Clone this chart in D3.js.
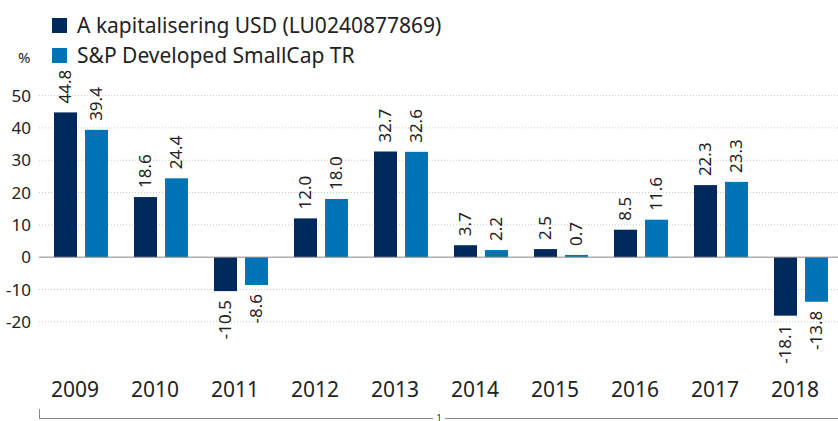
<!DOCTYPE html>
<html>
<head>
<meta charset="utf-8">
<script src="https://cdn.jsdelivr.net/npm/d3@7"></script>
<style>
  body { margin: 0; background: #fff; }
  text { font-family: "Noto Sans", "Open Sans", sans-serif; fill: #222; }
</style>
</head>
<body>
<svg id="chart" width="838" height="421"></svg>
<script>
const years = ["2009", "2010", "2011", "2012", "2013", "2014", "2015", "2016", "2017", "2018"];
const seriesNames = ["A kapitalisering USD (LU0240877869)", "S&P Developed SmallCap TR"];
const fundValues = [44.8, 18.6, -10.5, 12.0, 32.7, 3.7, 2.5, 8.5, 22.3, -18.1];
const indexValues = [39.4, 24.4, -8.6, 18.0, 32.6, 2.2, 0.7, 11.6, 23.3, -13.8];
const yTicks = [50, 40, 30, 20, 10, 0, -10, -20];
const colors = ["#002a5e", "#0073b6"];

const svg = d3.select('#chart');

const x = d3.scaleBand()
    .domain(years)
    .range([39, 843])
    .paddingInner(0.325)
    .paddingOuter(0.1875);

const xSub = d3.scaleBand()
    .domain([0, 1])
    .range([0, x.bandwidth()])
    .paddingInner(8 / 31);

const y = d3.scaleLinear()
    .domain([-20, 50])
    .range([321.8, 95.6]);

// gridlines
svg.append('g')
    .selectAll('line')
    .data(yTicks.filter(d => d !== 0))
    .enter()
    .append('line')
    .attr('x1', 39)
    .attr('x2', 838)
    .attr('y1', d => y(d))
    .attr('y2', d => y(d))
    .attr('stroke', '#c8c8c8')
    .attr('stroke-width', 1)
    .attr('stroke-dasharray', '1,2');

// y tick labels
svg.append('g')
    .selectAll('text')
    .data(yTicks)
    .enter()
    .append('text')
    .attr('x', 31)
    .attr('y', d => y(d))
    .attr('dy', '0.36em')
    .attr('text-anchor', 'end')
    .attr('font-size', 17)
    .text(d => d);

svg.append('text')
    .attr('x', 18)
    .attr('y', 63)
    .attr('font-size', 15)
    .text('%');

// bars
const data = years.map((yr, i) => ({ year: yr, vals: [fundValues[i], indexValues[i]] }));

const groups = svg.append('g')
    .selectAll('g')
    .data(data)
    .enter()
    .append('g')
    .attr('transform', d => `translate(${x(d.year)},0)`);

groups.selectAll('rect')
    .data(d => d.vals)
    .enter()
    .append('rect')
    .attr('x', (d, i) => xSub(i))
    .attr('y', d => y(Math.max(0, d)))
    .attr('width', xSub.bandwidth())
    .attr('height', d => Math.abs(y(d) - y(0)))
    .attr('fill', (d, i) => colors[i]);

groups.selectAll('text')
    .data(d => d.vals)
    .enter()
    .append('text')
    .attr('font-size', 17)
    .attr('text-anchor', d => d >= 0 ? 'start' : 'end')
    .attr('dy', '0.36em')
    .attr('transform', (d, i) => {
        const cx = xSub(i) + xSub.bandwidth() / 2 - 1;
        const cy = d >= 0 ? y(d) - 9 : y(d) + 9;
        return `translate(${cx},${cy}) rotate(-90)`;
    })
    .text(d => d.toFixed(1));

// zero line
svg.append('line')
    .attr('x1', 39)
    .attr('x2', 838)
    .attr('y1', y(0))
    .attr('y2', y(0))
    .attr('stroke', '#888')
    .attr('stroke-width', 1);

// year labels
svg.append('g')
    .selectAll('text')
    .data(years)
    .enter()
    .append('text')
    .attr('x', d => x(d) + x.bandwidth() / 2 - 6)
    .attr('y', 397)
    .attr('text-anchor', 'middle')
    .attr('font-size', 21)
    .text(d => d);

// bottom bracket
const br = svg.append('g').attr('stroke', '#888').attr('stroke-width', 1);
br.append('line').attr('x1', 39.5).attr('x2', 39.5).attr('y1', 409).attr('y2', 418.5);
br.append('line').attr('x1', 39).attr('x2', 433).attr('y1', 418.5).attr('y2', 418.5);
br.append('line').attr('x1', 445).attr('x2', 838).attr('y1', 418.5).attr('y2', 418.5);
svg.append('text')
    .attr('x', 439)
    .attr('y', 418)
    .attr('dy', '0.3em')
    .attr('text-anchor', 'middle')
    .attr('font-size', 9)
    .text('1');

// legend
const legend = svg.append('g')
    .selectAll('g')
    .data(seriesNames)
    .enter()
    .append('g')
    .attr('transform', (d, i) => `translate(52,${18 + i * 30})`);

legend.append('rect')
    .attr('width', 15)
    .attr('height', 15)
    .attr('fill', (d, i) => colors[i]);

legend.append('text')
    .attr('x', 25)
    .attr('y', 15)
    .attr('font-size', 21)
    .text(d => d);
</script>
</body>
</html>
